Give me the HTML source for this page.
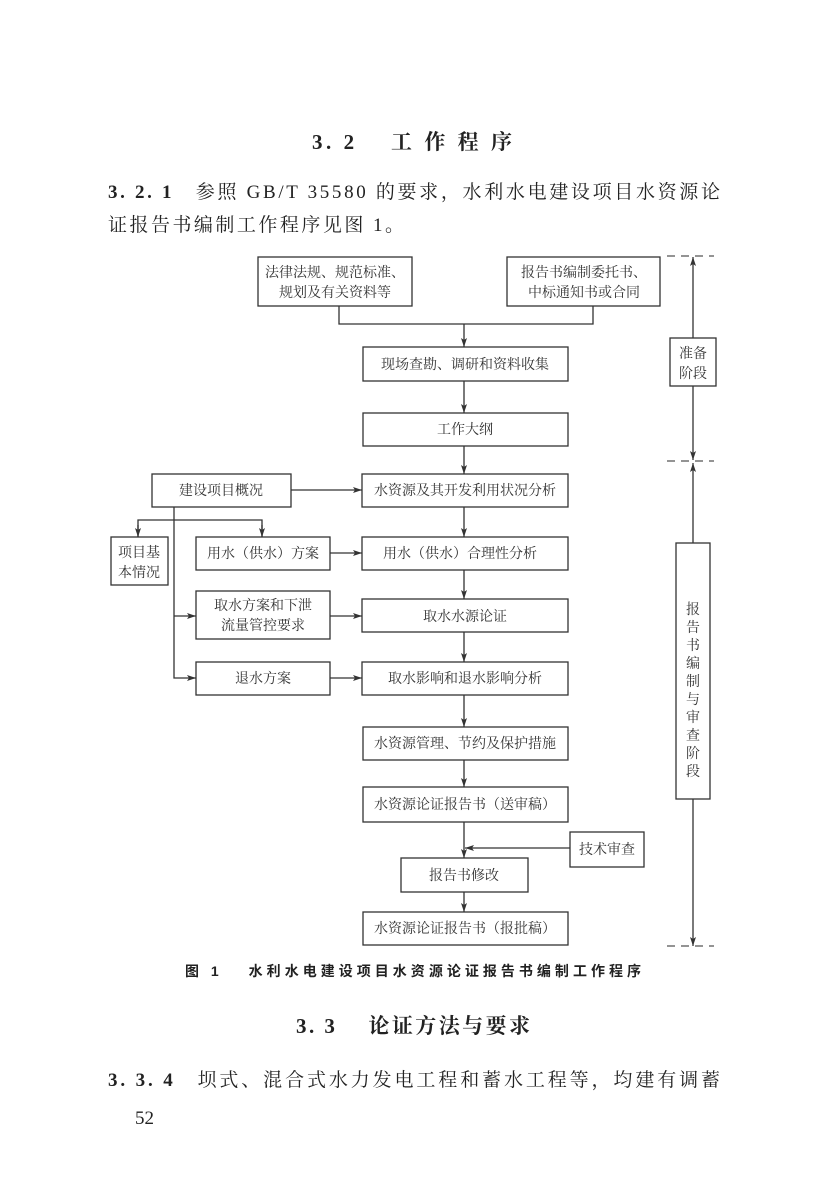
<!DOCTYPE html>
<html><head><meta charset="utf-8"><style>
html,body{margin:0;padding:0;background:#fff;}
svg{display:block;}
text{font-family:"Liberation Serif","Noto Serif CJK SC","Noto Sans CJK SC",serif;fill:#222;}
.b{font-size:14px;text-anchor:middle;font-family:"Liberation Serif","Noto Serif CJK SC",serif;fill:#333;}
</style></head><body>
<svg width="827" height="1199" viewBox="0 0 827 1199" xmlns="http://www.w3.org/2000/svg">
<defs><marker id="a" markerWidth="10" markerHeight="8" refX="9" refY="4" orient="auto" markerUnits="userSpaceOnUse"><path d="M0,1 L9,4 L0,7 L2,4 Z" fill="#333"/></marker></defs>
<text x="312" y="149" font-size="21" font-weight="bold" textLength="200" lengthAdjust="spacing">3. 2　 工 作 程 序</text>
<text x="108" y="198" font-size="19" textLength="612" lengthAdjust="spacing"><tspan font-weight="bold">3. 2. 1</tspan>　参照 GB/T 35580 的要求，水利水电建设项目水资源论</text>
<text x="108" y="231" font-size="19" textLength="296" lengthAdjust="spacing">证报告书编制工作程序见图 1。</text>
<g fill="none" stroke="#333" stroke-width="1.3">
<rect x="258" y="257" width="154" height="49"/>
<rect x="507" y="257" width="153" height="49"/>
<polyline points="339,306 339,324 593,324 593,306"/>
<line x1="464" y1="324" x2="464" y2="347" marker-end="url(#a)"/>
<rect x="363" y="347" width="205" height="34"/>
<line x1="464" y1="381" x2="464" y2="413" marker-end="url(#a)"/>
<rect x="363" y="413" width="205" height="33"/>
<line x1="464" y1="446" x2="464" y2="474" marker-end="url(#a)"/>
<rect x="362" y="474" width="206" height="33"/>
<rect x="152" y="474" width="139" height="33"/>
<line x1="291" y1="490" x2="362" y2="490" marker-end="url(#a)"/>
<polyline points="174,507 174,678 196,678" marker-end="url(#a)"/>
<line x1="174" y1="616" x2="196" y2="616" marker-end="url(#a)"/>
<polyline points="138,537 138,520 262,520 262,537"/>
<line x1="138" y1="525" x2="138" y2="537" marker-end="url(#a)"/>
<line x1="262" y1="525" x2="262" y2="537" marker-end="url(#a)"/>
<rect x="111" y="537" width="57" height="48"/>
<rect x="196" y="537" width="134" height="33"/>
<line x1="330" y1="553" x2="362" y2="553" marker-end="url(#a)"/>
<rect x="362" y="537" width="206" height="33"/>
<line x1="464" y1="507" x2="464" y2="537" marker-end="url(#a)"/>
<rect x="196" y="591" width="134" height="48"/>
<line x1="330" y1="616" x2="362" y2="616" marker-end="url(#a)"/>
<rect x="362" y="599" width="206" height="33"/>
<line x1="464" y1="570" x2="464" y2="599" marker-end="url(#a)"/>
<rect x="196" y="662" width="134" height="33"/>
<line x1="330" y1="678" x2="362" y2="678" marker-end="url(#a)"/>
<rect x="362" y="662" width="206" height="33"/>
<line x1="464" y1="632" x2="464" y2="662" marker-end="url(#a)"/>
<line x1="464" y1="695" x2="464" y2="727" marker-end="url(#a)"/>
<rect x="363" y="727" width="205" height="33"/>
<line x1="464" y1="760" x2="464" y2="787" marker-end="url(#a)"/>
<rect x="363" y="787" width="205" height="35"/>
<line x1="464" y1="822" x2="464" y2="858" marker-end="url(#a)"/>
<rect x="570" y="832" width="74" height="35"/>
<line x1="570" y1="848" x2="465" y2="848" marker-end="url(#a)"/>
<rect x="401" y="858" width="127" height="34"/>
<line x1="464" y1="892" x2="464" y2="912" marker-end="url(#a)"/>
<rect x="363" y="912" width="205" height="33"/>
<line x1="693" y1="338" x2="693" y2="257" marker-end="url(#a)"/>
<line x1="693" y1="386" x2="693" y2="460" marker-end="url(#a)"/>
<rect x="670" y="338" width="46" height="48"/>
<line x1="693" y1="543" x2="693" y2="463" marker-end="url(#a)"/>
<rect x="676" y="543" width="34" height="256"/>
<line x1="693" y1="799" x2="693" y2="946" marker-end="url(#a)"/>
</g>
<g stroke="#555" stroke-width="1.3" stroke-dasharray="8,6">
<line x1="667" y1="256" x2="714" y2="256"/>
<line x1="667" y1="461" x2="714" y2="461"/>
<line x1="667" y1="946" x2="714" y2="946"/>
</g>
<text class="b" x="335" y="277">法律法规、规范标准、</text>
<text class="b" x="335" y="297">规划及有关资料等</text>
<text class="b" x="584" y="277">报告书编制委托书、</text>
<text class="b" x="584" y="297">中标通知书或合同</text>
<text class="b" x="465" y="369">现场查勘、调研和资料收集</text>
<text class="b" x="465" y="434">工作大纲</text>
<text class="b" x="465" y="495">水资源及其开发利用状况分析</text>
<text class="b" x="221" y="495">建设项目概况</text>
<text class="b" x="139" y="557">项目基</text>
<text class="b" x="139" y="577">本情况</text>
<text class="b" x="263" y="558">用水（供水）方案</text>
<text class="b" x="460" y="558">用水（供水）合理性分析</text>
<text class="b" x="263" y="610">取水方案和下泄</text>
<text class="b" x="263" y="630">流量管控要求</text>
<text class="b" x="465" y="621">取水水源论证</text>
<text class="b" x="263" y="683">退水方案</text>
<text class="b" x="465" y="683">取水影响和退水影响分析</text>
<text class="b" x="465" y="748">水资源管理、节约及保护措施</text>
<text class="b" x="465" y="809">水资源论证报告书（送审稿）</text>
<text class="b" x="607" y="854">技术审查</text>
<text class="b" x="464" y="880">报告书修改</text>
<text class="b" x="465" y="933">水资源论证报告书（报批稿）</text>
<text class="b" x="693" y="358">准备</text>
<text class="b" x="693" y="378">阶段</text>
<text class="b" x="693" y="614">报</text><text class="b" x="693" y="632">告</text><text class="b" x="693" y="650">书</text><text class="b" x="693" y="668">编</text><text class="b" x="693" y="686">制</text><text class="b" x="693" y="704">与</text><text class="b" x="693" y="722">审</text><text class="b" x="693" y="740">查</text><text class="b" x="693" y="758">阶</text><text class="b" x="693" y="776">段</text>
<text x="185" y="976" font-size="14" font-weight="bold" textLength="456" lengthAdjust="spacing" style="font-family:'Liberation Sans','Noto Sans CJK SC',sans-serif">图 1　 水利水电建设项目水资源论证报告书编制工作程序</text>
<text x="296" y="1033" font-size="21" font-weight="bold" textLength="234" lengthAdjust="spacing">3. 3　 论证方法与要求</text>
<text x="108" y="1086" font-size="19" textLength="612" lengthAdjust="spacing"><tspan font-weight="bold">3. 3. 4</tspan>　坝式、混合式水力发电工程和蓄水工程等，均建有调蓄</text>
<text x="135" y="1124" font-size="19">52</text>
</svg>
</body></html>
